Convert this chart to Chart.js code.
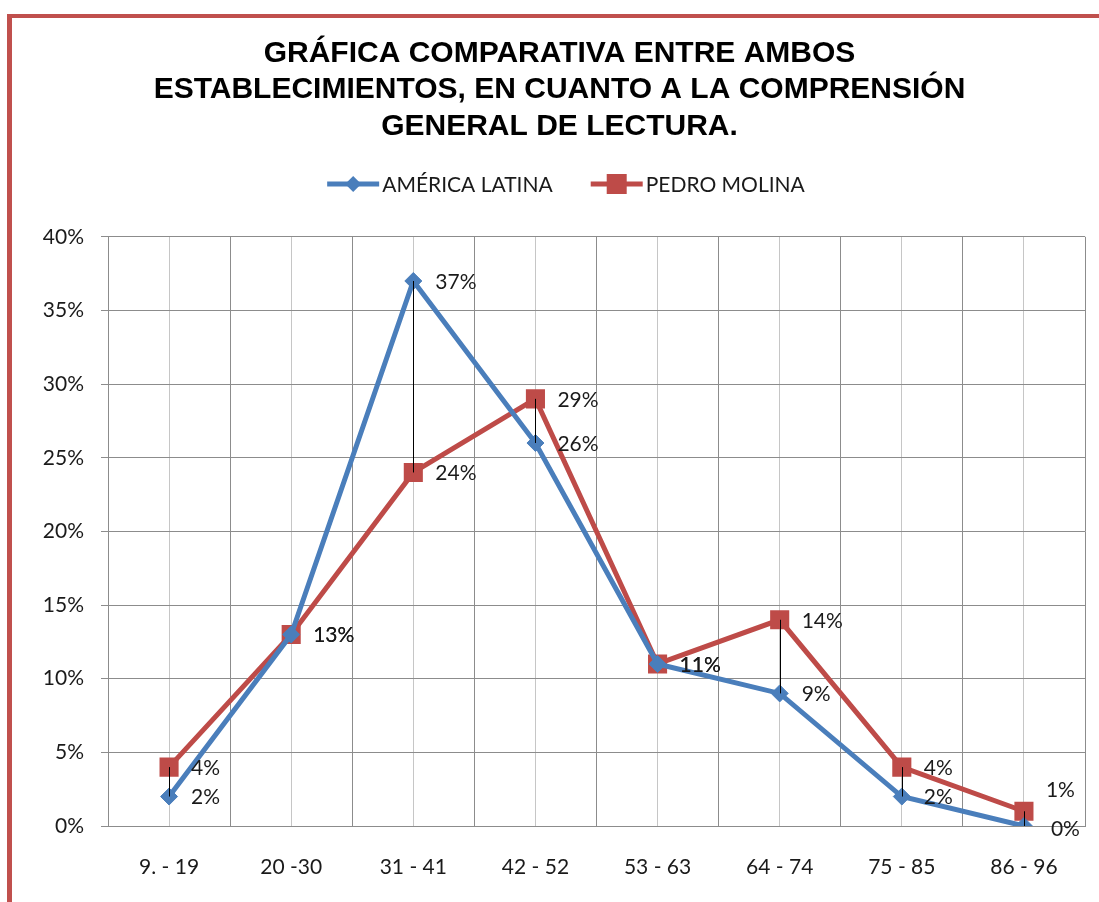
<!DOCTYPE html>
<html>
<head>
<meta charset="utf-8">
<script src="https://cdn.jsdelivr.net/npm/chart.js@4.4.1/dist/chart.umd.min.js"></script>
<style>
  html, body { margin: 0; padding: 0; background: #fff; overflow: hidden; }
  #frame { position: absolute; left: 7px; top: 14px; width: 2000px; height: 2000px;
           border-left: 5px solid #C0504D; border-top: 4px solid #C0504D; }
  #wrap { position: absolute; left: 0; top: 0; width: 1099px; height: 902px; }
</style>
</head>
<body>
<div id="frame"></div>
<div id="wrap"><canvas id="c" width="1099" height="902"></canvas></div>
<script>
const categories = ['9. - 19', '20 -30', '31 - 41', '42 - 52', '53 - 63', '64 - 74', '75 - 85', '86 - 96'];
const americaLatina = [2, 13, 37, 26, 11, 9, 2, 0];
const pedroMolina = [4, 13, 24, 29, 11, 14, 4, 1];
const yTicks = [0, 5, 10, 15, 20, 25, 30, 35, 40];
const titleLines = ['GRÁFICA COMPARATIVA ENTRE AMBOS', 'ESTABLECIMIENTOS, EN CUANTO A LA COMPRENSIÓN', 'GENERAL DE LECTURA.'];
const seriesNames = ['AMÉRICA LATINA', 'PEDRO MOLINA'];

const BLUE = '#4A7EBB';
const RED = '#BE4B48';
const FONT = 'Lato, "Open Sans", sans-serif';

// label offsets (dx, dy) for special points
const labelShift = { '1:7': [22, -21], '0:7': [27, 3] };

const dropLines = {
  id: 'dropLines',
  afterDatasetsDraw(chart) {
    const a = chart.getDatasetMeta(0).data, b = chart.getDatasetMeta(1).data;
    const ctx = chart.ctx;
    ctx.save();
    ctx.strokeStyle = '#000';
    ctx.lineWidth = 1;
    for (let i = 0; i < a.length; i++) {
      if (Math.abs(a[i].y - b[i].y) < 1) continue;
      ctx.beginPath();
      ctx.moveTo(Math.round(a[i].x) + 0.5, a[i].y);
      ctx.lineTo(Math.round(a[i].x) + 0.5, b[i].y);
      ctx.stroke();
    }
    ctx.restore();
  }
};

const dataLabels = {
  id: 'dataLabels',
  afterDatasetsDraw(chart) {
    const ctx = chart.ctx;
    ctx.save();
    ctx.font = '21px ' + FONT;
    ctx.fillStyle = '#1a1a1a';
    ctx.textAlign = 'left';
    ctx.textBaseline = 'middle';
    chart.data.datasets.forEach((ds, di) => {
      chart.getDatasetMeta(di).data.forEach((pt, i) => {
        const s = labelShift[di + ':' + i] || [22, 1];
        ctx.fillText(ds.data[i].y + '%', pt.x + s[0], pt.y + s[1]);
      });
    });
    ctx.restore();
  }
};

const customLegend = {
  id: 'customLegend',
  afterDraw(chart) {
    const ctx = chart.ctx;
    ctx.save();
    ctx.font = '21px ' + FONT;
    ctx.textBaseline = 'middle';
    ctx.textAlign = 'left';
    const lineLen = 52, gapText = 3, gapItems = 38;
    const w0 = ctx.measureText(seriesNames[0]).width;
    const w1 = ctx.measureText(seriesNames[1]).width;
    const total = lineLen + gapText + w0 + gapItems + lineLen + gapText + w1;
    let x = 566 - total / 2;
    const y = 184;
    const items = [
      { name: seriesNames[0], color: BLUE, shape: 'diamond', w: w0 },
      { name: seriesNames[1], color: RED, shape: 'square', w: w1 }
    ];
    items.forEach(it => {
      ctx.strokeStyle = it.color;
      ctx.lineWidth = 5;
      ctx.beginPath();
      ctx.moveTo(x, y);
      ctx.lineTo(x + lineLen, y);
      ctx.stroke();
      const cx = x + lineLen / 2;
      ctx.fillStyle = it.color;
      ctx.beginPath();
      if (it.shape === 'diamond') {
        ctx.moveTo(cx - 8, y); ctx.lineTo(cx, y - 8); ctx.lineTo(cx + 8, y); ctx.lineTo(cx, y + 8);
        ctx.closePath();
      } else {
        ctx.rect(cx - 10, y - 10, 20, 20);
      }
      ctx.fill();
      ctx.fillStyle = '#1a1a1a';
      ctx.fillText(it.name, x + lineLen + gapText, y + 1);
      x += lineLen + gapText + it.w + gapItems;
    });
    ctx.restore();
  }
};

const toPts = arr => arr.map((v, i) => ({ x: i, y: v }));

new Chart(document.getElementById('c'), {
  type: 'line',
  data: {
    datasets: [
      {
        label: seriesNames[0],
        data: toPts(americaLatina),
        borderColor: BLUE,
        backgroundColor: BLUE,
        borderWidth: 5,
        pointStyle: 'rectRot',
        pointRadius: 8.5,
        pointBorderWidth: 1,
        pointBackgroundColor: BLUE,
        pointBorderColor: BLUE,
        tension: 0
      },
      {
        label: seriesNames[1],
        data: toPts(pedroMolina),
        borderColor: RED,
        backgroundColor: RED,
        borderWidth: 5,
        pointStyle: 'rect',
        pointRadius: 13.5,
        pointBorderWidth: 0,
        pointBackgroundColor: RED,
        pointBorderColor: RED,
        tension: 0
      }
    ]
  },
  options: {
    responsive: false,
    animation: false,
    events: [],
    layout: { padding: { left: 34, right: 14, top: 0, bottom: 0 } },
    plugins: {
      legend: { display: false },
      tooltip: { enabled: false },
      title: {
        display: true,
        text: titleLines,
        color: '#000',
        font: { family: '"Liberation Sans", Arial, sans-serif', size: 30, weight: 'bold', lineHeight: 1.22 },
        padding: { top: 35, bottom: 92 }
      }
    },
    scales: {
      x: {
        type: 'linear',
        min: -0.5,
        max: 7.5,
        afterFit(s) { s.height = 76; s.paddingRight = 0; s.paddingLeft = 0; },
        afterBuildTicks(s) {
          const t = [];
          for (let k = 0; k <= 16; k++) t.push({ value: -0.5 + k * 0.5 });
          s.ticks = t;
        },
        ticks: {
          autoSkip: false,
          maxRotation: 0,
          padding: 0,
          color: '#1a1a1a',
          font: { family: FONT, size: 21 },
          callback: v => (Number.isInteger(v) ? categories[v] : '')
        },
        grid: {
          drawTicks: true,
          tickLength: 29,
          tickColor: 'rgba(0,0,0,0)',
          color: ctx => (Number.isInteger(ctx.tick.value) ? '#c6c6c6' : '#8c8c8c'),
          lineWidth: 1
        },
        border: { color: '#8c8c8c', width: 1 }
      },
      y: {
        min: 0,
        max: 40,
        afterFit(s) { s.width = 74; },
        afterBuildTicks(s) { s.ticks = yTicks.map(v => ({ value: v })); },
        ticks: {
          padding: 17,
          color: '#1a1a1a',
          font: { family: FONT, size: 21 },
          callback: v => v + '%'
        },
        grid: { color: '#8c8c8c', lineWidth: 1, tickLength: 7 },
        border: { color: '#8c8c8c', width: 1 }
      }
    }
  },
  plugins: [dropLines, dataLabels, customLegend]
});
</script>
</body>
</html>
